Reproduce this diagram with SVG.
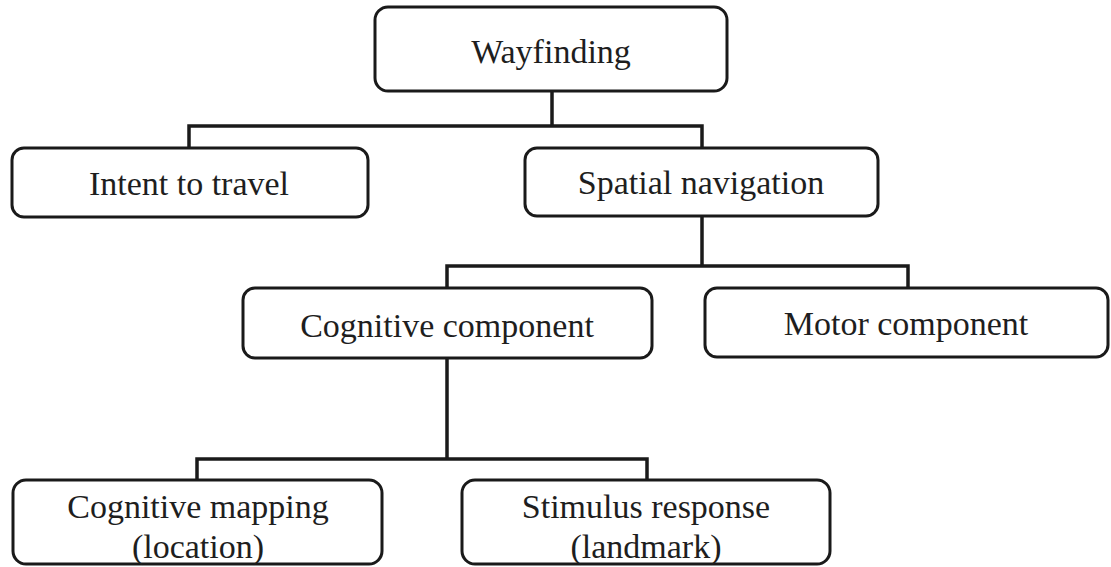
<svg xmlns="http://www.w3.org/2000/svg" width="1111" height="567" viewBox="0 0 1111 567">
<style>
.box{fill:#fff;stroke:#1a1a1a;stroke-width:3}
.lbl{font-family:"Liberation Serif","Times New Roman",serif;font-size:34px;fill:#1e1e1e;text-anchor:middle}
.conn{fill:none;stroke:#1a1a1a;stroke-width:3.5;stroke-linejoin:miter;stroke-linecap:square}
</style>
<rect width="1111" height="567" fill="#fff"/>
<g id="connectors">
<path class="conn" d="M552 91V126M189 148V126H702V148"/>
<path class="conn" d="M702 217V266M447 288V266H908V288"/>
<path class="conn" d="M447 358V459M197 480V459H647V480"/>
</g>
<g id="wayfinding">
<rect class="box" x="375" y="7" width="352" height="84" rx="13"/>
<text class="lbl" x="551" y="63">Wayfinding</text>
</g>
<g id="intent">
<rect class="box" x="12" y="148" width="356" height="69" rx="12"/>
<text class="lbl" x="189" y="195">Intent to travel</text>
</g>
<g id="spatial">
<rect class="box" x="525" y="148" width="353" height="68" rx="12"/>
<text class="lbl" x="701" y="194">Spatial navigation</text>
</g>
<g id="cognitive">
<rect class="box" x="243" y="288" width="409" height="70" rx="12"/>
<text class="lbl" x="447" y="337">Cognitive component</text>
</g>
<g id="motor">
<rect class="box" x="705" y="288" width="403" height="69" rx="12"/>
<text class="lbl" x="906" y="335">Motor component</text>
</g>
<g id="mapping">
<rect class="box" x="13" y="480" width="369" height="84" rx="13"/>
<text class="lbl" x="198" y="518">Cognitive mapping</text>
<text class="lbl" x="198" y="558">(location)</text>
</g>
<g id="stimulus">
<rect class="box" x="462" y="480" width="368" height="84" rx="13"/>
<text class="lbl" x="646" y="518">Stimulus response</text>
<text class="lbl" x="646" y="558">(landmark)</text>
</g>
</svg>
